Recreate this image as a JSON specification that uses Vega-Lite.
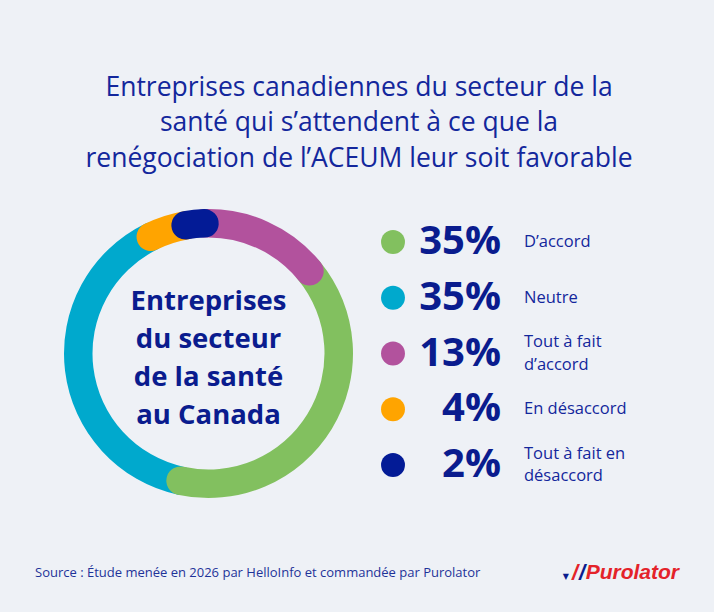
{
  "$schema": "https://vega.github.io/schema/vega-lite/v6.json",
  "background": "#EEF1F6",
  "padding": {"left": 35, "top": 74, "right": 35, "bottom": 29},
  "autosize": {"type": "pad"},
  "title": {
    "text": [
      "Entreprises canadiennes du secteur de la",
      "santé qui s’attendent à ce que la",
      "renégociation de l’ACEUM leur soit favorable"
    ],
    "font": "Open Sans",
    "fontSize": 26.5,
    "fontWeight": "normal",
    "color": "#13279C",
    "lineHeight": 35.5,
    "anchor": "middle",
    "offset": 29,
    "dx": 2
  },
  "datasets": {
    "reponses": [
      {"reponse": "Neutre", "etiquette": "Neutre", "part": 0.35, "rang": 4},
      {"reponse": "D’accord", "etiquette": "D’accord", "part": 0.35, "rang": 3},
      {"reponse": "Tout à fait d’accord", "etiquette": "Tout à fait\nd’accord", "part": 0.13, "rang": 2},
      {"reponse": "En désaccord", "etiquette": "En désaccord", "part": 0.04, "rang": 5},
      {"reponse": "Tout à fait en désaccord", "etiquette": "Tout à fait en\ndésaccord", "part": 0.02, "rang": 1}
    ]
  },
  "vconcat": [
    {
      "spacing": 0,
      "bounds": "flush",
      "hconcat": [
        {
          "width": 347,
          "height": 305,
          "layer": [
            {
              "data": {"name": "reponses"},
              "transform": [
                {
                  "stack": "part",
                  "groupby": [],
                  "sort": [{"field": "rang", "order": "ascending"}],
                  "as": ["debut", "fin"]
                }
              ],
              "mark": {
                "type": "arc",
                "innerRadius": 116,
                "outerRadius": 144.5,
                "cornerRadius": 14.25,
                "thetaOffset": -0.112,
                "theta2Offset": 0.112
              },
              "encoding": {
                "theta": {
                  "field": "debut",
                  "type": "quantitative",
                  "stack": null,
                  "scale": {"domain": [0, 0.89], "range": [-0.1745, 6.1087]}
                },
                "theta2": {"field": "fin"},
                "color": {
                  "field": "reponse",
                  "type": "nominal",
                  "legend": null,
                  "scale": {
                    "domain": ["D’accord", "Neutre", "Tout à fait d’accord", "En désaccord", "Tout à fait en désaccord"],
                    "range": ["#82C05F", "#00A9CD", "#B2529D", "#FFA400", "#031B96"]
                  }
                }
              }
            },
            {
              "data": {"values": [{}]},
              "mark": {
                "type": "text",
                "text": ["Entreprises", "du secteur", "de la santé", "au Canada"],
                "font": "Open Sans",
                "fontSize": 27.5,
                "fontWeight": "bold",
                "lineHeight": 38,
                "align": "center",
                "baseline": "middle",
                "dy": -52,
                "color": "#0A1C8E"
              },
              "encoding": {}
            }
          ]
        },
        {
          "spacing": 24,
          "bounds": "flush",
          "hconcat": [
            {
              "width": 22,
              "height": 305,
              "data": {"name": "reponses"},
              "mark": {"type": "circle", "size": 572, "opacity": 1},
              "encoding": {
                "y": {
                  "field": "reponse",
                  "type": "nominal",
                  "sort": ["D’accord", "Neutre", "Tout à fait d’accord", "En désaccord", "Tout à fait en désaccord"],
                  "scale": {"type": "point", "padding": 0.7354},
                  "axis": null
                },
                "color": {
                  "field": "reponse",
                  "type": "nominal",
                  "legend": null,
                  "scale": {
                    "domain": ["D’accord", "Neutre", "Tout à fait d’accord", "En désaccord", "Tout à fait en désaccord"],
                    "range": ["#82C05F", "#00A9CD", "#B2529D", "#FFA400", "#031B96"]
                  }
                }
              }
            },
            {
              "width": 70,
              "height": 305,
              "data": {"name": "reponses"},
              "mark": {
                "type": "text",
                "align": "right",
                "baseline": "middle",
                "x": "width",
                "dx": 3,
                "font": "Open Sans",
                "fontSize": 40,
                "fontWeight": "bold",
                "color": "#0A1C8E"
              },
              "encoding": {
                "y": {
                  "field": "reponse",
                  "type": "nominal",
                  "sort": ["D’accord", "Neutre", "Tout à fait d’accord", "En désaccord", "Tout à fait en désaccord"],
                  "scale": {"type": "point", "padding": 0.7354},
                  "axis": null
                },
                "text": {"field": "part", "type": "quantitative", "format": ".0%"}
              }
            },
            {
              "width": 150,
              "height": 305,
              "data": {"name": "reponses"},
              "encoding": {
                "y": {
                  "field": "reponse",
                  "type": "nominal",
                  "sort": ["D’accord", "Neutre", "Tout à fait d’accord", "En désaccord", "Tout à fait en désaccord"],
                  "scale": {"type": "point", "padding": 0.7354},
                  "axis": null
                },
                "text": {"field": "etiquette", "type": "nominal"}
              },
              "layer": [
                {
                  "transform": [{"filter": "indexof(datum.etiquette, '\\n') < 0"}],
                  "mark": {
                    "type": "text",
                    "align": "left",
                    "baseline": "middle",
                    "x": 0,
                    "dx": 2,
                    "font": "Open Sans",
                    "fontSize": 16.5,
                    "color": "#13279C"
                  }
                },
                {
                  "transform": [{"filter": "indexof(datum.etiquette, '\\n') >= 0"}],
                  "mark": {
                    "type": "text",
                    "align": "left",
                    "baseline": "middle",
                    "x": 0,
                    "dx": 2,
                    "dy": -11.25,
                    "font": "Open Sans",
                    "fontSize": 16.5,
                    "lineHeight": 22.5,
                    "lineBreak": "\n",
                    "color": "#13279C"
                  }
                }
              ]
            }
          ]
        }
      ]
    },
    {
      "spacing": 0,
      "bounds": "flush",
      "hconcat": [
        {
          "width": 510,
          "height": 20,
          "data": {"values": [{}]},
          "mark": {
            "type": "text",
            "text": "Source : Étude menée en 2026 par HelloInfo et commandée par Purolator",
            "align": "left",
            "baseline": "middle",
            "x": 0,
            "font": "Open Sans",
            "fontSize": 13,
            "color": "#1E3399"
          },
          "encoding": {}
        },
        {
          "width": 134,
          "height": 20,
          "data": {"values": [{}]},
          "layer": [
            {
              "mark": {
                "type": "text",
                "text": "Purolator",
                "align": "right",
                "baseline": "middle",
                "x": "width",
                "font": "Liberation Sans",
                "fontSize": 21,
                "fontWeight": "bold",
                "fontStyle": "italic",
                "color": "#E4232A"
              },
              "encoding": {}
            },
            {
              "mark": {
                "type": "text",
                "text": "/",
                "align": "right",
                "baseline": "middle",
                "x": "width",
                "dx": -94,
                "font": "Liberation Sans",
                "fontSize": 22,
                "fontWeight": "bold",
                "fontStyle": "italic",
                "color": "#0A1C8E"
              },
              "encoding": {}
            },
            {
              "mark": {
                "type": "text",
                "text": "/",
                "align": "right",
                "baseline": "middle",
                "x": "width",
                "dx": -101,
                "font": "Liberation Sans",
                "fontSize": 22,
                "fontWeight": "bold",
                "fontStyle": "italic",
                "color": "#E4232A"
              },
              "encoding": {}
            },
            {
              "mark": {
                "type": "text",
                "text": "▼",
                "align": "right",
                "baseline": "middle",
                "x": "width",
                "dx": -110,
                "dy": 4,
                "font": "DejaVu Sans",
                "fontSize": 8,
                "color": "#0A1C8E"
              },
              "encoding": {}
            }
          ]
        }
      ]
    }
  ],
  "spacing": 56,
  "config": {
    "view": {"stroke": null}
  }
}
